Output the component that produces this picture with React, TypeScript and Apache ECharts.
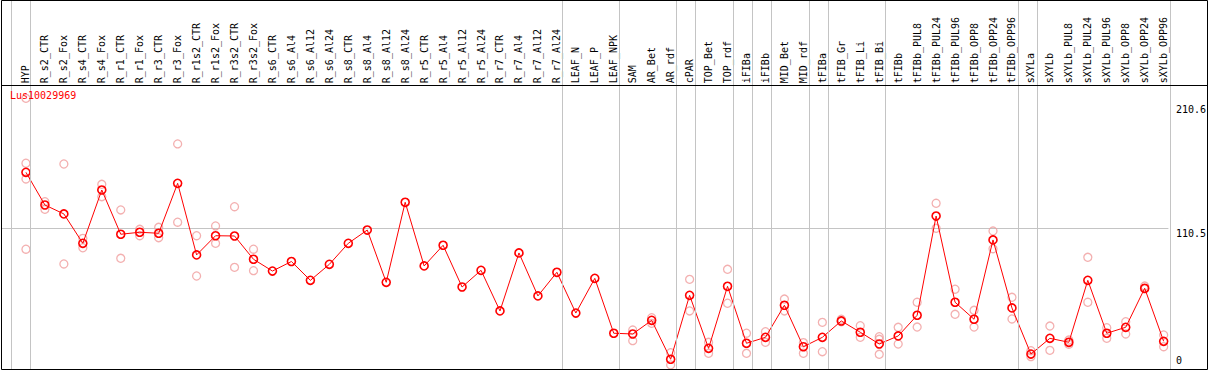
import React, { useEffect, useRef } from "react";
import * as echarts from "echarts";

const chartTitle = "Lus10029969";

const categories = [
  "HYP", "R_s2_CTR", "R_s2_Fox", "R_s4_CTR", "R_s4_Fox", "R_r1_CTR", "R_r1_Fox", "R_r3_CTR", "R_r3_Fox",
  "R_r1s2_CTR", "R_r1s2_Fox", "R_r3s2_CTR", "R_r3s2_Fox",
  "R_s6_CTR", "R_s6_Al4", "R_s6_Al12", "R_s6_Al24",
  "R_s8_CTR", "R_s8_Al4", "R_s8_Al12", "R_s8_Al24",
  "R_r5_CTR", "R_r5_Al4", "R_r5_Al12", "R_r5_Al24",
  "R_r7_CTR", "R_r7_Al4", "R_r7_Al12", "R_r7_Al24",
  "LEAF_N", "LEAF_P", "LEAF_NPK", "SAM", "AR_Bet", "AR_rdf", "cPAR", "TOP_Bet", "TOP_rdf",
  "iFIBa", "iFIBb", "MID_Bet", "MID_rdf", "tFIBa", "tFIB_Gr", "tFIB_Li", "tFIB_Bi", "tFIBb",
  "tFIBb_PUL8", "tFIBb_PUL24", "tFIBb_PUL96", "tFIBb_OPP8", "tFIBb_OPP24", "tFIBb_OPP96",
  "sXYLa", "sXYLb", "sXYLb_PUL8", "sXYLb_PUL24", "sXYLb_PUL96", "sXYLb_OPP8", "sXYLb_OPP24", "sXYLb_OPP96",
];

const meanValues = [
  155.7, 129.3, 122.1, 98.4, 141.4, 105.7, 107.3, 106.5, 146.8, 89.0, 104.5, 104.3, 85.5,
  76.0, 83.7, 68.5, 81.4, 98.4, 109.1, 66.9, 131.5, 80.1, 96.8, 63.1, 76.6, 43.8, 90.6, 55.9, 75.0,
  42.1, 70.1, 25.8, 25.2, 36.2, 4.8, 56.4, 13.6, 63.7, 17.7, 22.5, 48.4, 14.9, 22.5, 35.7, 26.6, 17.1,
  23.6, 40.3, 120.4, 50.8, 37.1, 101.1, 46.2, 9.0, 21.7, 18.5, 68.5, 25.8, 30.6, 62.1, 19.3,
];

const rep1 = [
  215.4, 132.0, 162.4, 102.4, 146.0, 125.3, 109.7, 111.3, 178.6, 104.5, 112.4, 127.9, 93.6,
  null, null, null, null, null, null, null, null, null, null, null, null, null, null, null, null,
  null, null, null, 28.4, 38.3, 10.1, 69.3, 18.5, 77.4, 25.8, 27.0, 53.4, 18.2, 34.6, 37.1, 31.9, 23.0,
  30.6, 50.8, 130.7, 61.3, 44.3, 108.3, 54.8, 11.7, 31.6, 20.3, 87.1, 30.3, 35.1, 63.9, 24.4,
];

const rep2 = [
  163.0, 125.8, 81.7, 94.8, 136.0, 86.3, 104.5, 102.9, 115.4, 72.0, 98.4, 79.0, 76.3,
  null, null, null, null, null, null, null, null, null, null, null, null, null, null, null, null,
  null, null, null, 19.8, 33.8, 0.2, 43.8, 9.6, 50.0, 9.6, 18.5, 43.8, 9.6, 10.9, 35.1, 22.5, 20.9,
  17.1, 30.8, 110.5, 41.1, 30.8, 94.0, 37.3, 6.9, 12.0, 16.9, 50.8, 21.7, 25.2, 61.5, 14.9,
];

const rep3: (number | null)[] = categories.map(() => null);
rep3[0] = 150.3;
rep3[45] = 8.8;

const rep4: (number | null)[] = categories.map(() => null);
rep4[0] = 93.6;

const yTickValues = [0, 110.5, 210.6];
const yMax = 226;
// indices of the last category of each group (vertical separators)
const groupEnds = [-1, 0, 28, 31, 34, 35, 37, 38, 39, 41, 42, 45, 52, 53, 60];

const MONO = '"DejaVu Sans Mono", "Liberation Mono", monospace';

const X_MIN = -25 / 19;
const X_MAX = 60.25;

export default function App() {
  const ref = useRef<HTMLDivElement>(null);

  useEffect(() => {
    document.body.style.margin = "0";
    if (!ref.current) return;
    const chart = echarts.init(ref.current, null, { renderer: "svg" });

    const toPairs = (arr: (number | null)[]) =>
      arr.map((v, i) => (v == null ? null : [i, v])).filter((d) => d !== null);

    const repSeries = [rep1, rep2, rep3, rep4].map((arr, k) => ({
      type: "scatter",
      name: "rep" + (k + 1),
      xAxisIndex: 0,
      yAxisIndex: 0,
      data: toPairs(arr),
      symbol: "circle",
      symbolSize: 8,
      itemStyle: { color: "rgba(0,0,0,0)", borderColor: "#f09c9c", borderWidth: 1.3 },
      z: 3,
      silent: true,
    }));

    chart.setOption({
      animation: false,
      backgroundColor: "#ffffff",
      title: {
        text: chartTitle,
        left: 10,
        top: 90,
        padding: 0,
        textStyle: { color: "#ff0000", fontSize: 10, fontWeight: "normal", fontFamily: MONO },
      },
      grid: [
        { left: 1, right: 1209 - 1 - (X_MAX - X_MIN) * 19, top: 85.2, bottom: 4.8 },
        { left: 1, right: 1209 - 1 - (X_MAX - X_MIN) * 19, top: 0, bottom: 1 },
      ],
      xAxis: [
        {
          type: "value",
          gridIndex: 0,
          position: "top",
          min: X_MIN,
          max: X_MAX,
          axisLine: { show: false },
          axisTick: { show: false },
          splitLine: { show: false },
          axisLabel: {
            customValues: categories.map((_, i) => i),
            formatter: (v: number) => categories[Math.round(v)] ?? "",
            rotate: 90,
            margin: 2,
            fontSize: 10,
            lineHeight: 12,
            fontFamily: MONO,
            color: "#000000",
          },
        },
        { type: "value", gridIndex: 1, min: X_MIN, max: X_MAX, show: false },
      ],
      yAxis: [
        {
          type: "value",
          gridIndex: 0,
          position: "right",
          min: 0,
          max: yMax,
          axisLine: { show: false },
          axisTick: { show: false },
          splitLine: { show: false },
          axisLabel: {
            customValues: yTickValues,
            margin: 7.5,
            fontSize: 10,
            fontFamily: MONO,
            color: "#000000",
            verticalAlign: "top",
            verticalAlignMinLabel: "bottom",
            formatter: (v: number) => (v === 0 ? "0" : v.toFixed(1)),
          },
        },
        { type: "value", gridIndex: 1, min: 0, max: 1, show: false },
      ],
      graphic: [
        {
          type: "rect",
          shape: { x: 1.5, y: 0.5, width: 1206, height: 369 },
          style: { fill: "none", stroke: "#000000", lineWidth: 1 },
          z: 10,
          silent: true,
        },
        {
          type: "line",
          shape: { x1: 1, y1: 85.5, x2: 1207.5, y2: 85.5 },
          style: { stroke: "#000000", lineWidth: 1 },
          z: 10,
          silent: true,
        },
      ],
      series: [
        {
          type: "line",
          name: "separators",
          xAxisIndex: 1,
          yAxisIndex: 1,
          data: [],
          z: 1,
          silent: true,
          markLine: {
            silent: true,
            symbol: ["none", "none"],
            label: { show: false },
            lineStyle: { color: "#c4c4c4", type: "solid", width: 1 },
            data: groupEnds.map((i) => ({ xAxis: i + 0.24 })),
          },
        },
        ...repSeries,
        {
          type: "line",
          name: "mean",
          xAxisIndex: 0,
          yAxisIndex: 0,
          data: meanValues.map((v, i) => [i, v]),
          symbol: "circle",
          symbolSize: 8,
          showAllSymbol: true,
          lineStyle: { color: "#ff0000", width: 1 },
          itemStyle: { color: "rgba(0,0,0,0)", borderColor: "#ff0000", borderWidth: 1.6 },
          z: 4,
          silent: true,
          markLine: {
            silent: true,
            symbol: ["none", "none"],
            label: { show: false },
            lineStyle: { color: "#c4c4c4", type: "solid", width: 1 },
            data: [{ yAxis: yTickValues[1] }],
            z: 1,
          },
        },
      ],
    });

    return () => chart.dispose();
  }, []);

  return (
    <div
      ref={ref}
      style={{ position: "absolute", left: 0, top: 0, width: 1209, height: 370, overflow: "hidden" }}
    />
  );
}
